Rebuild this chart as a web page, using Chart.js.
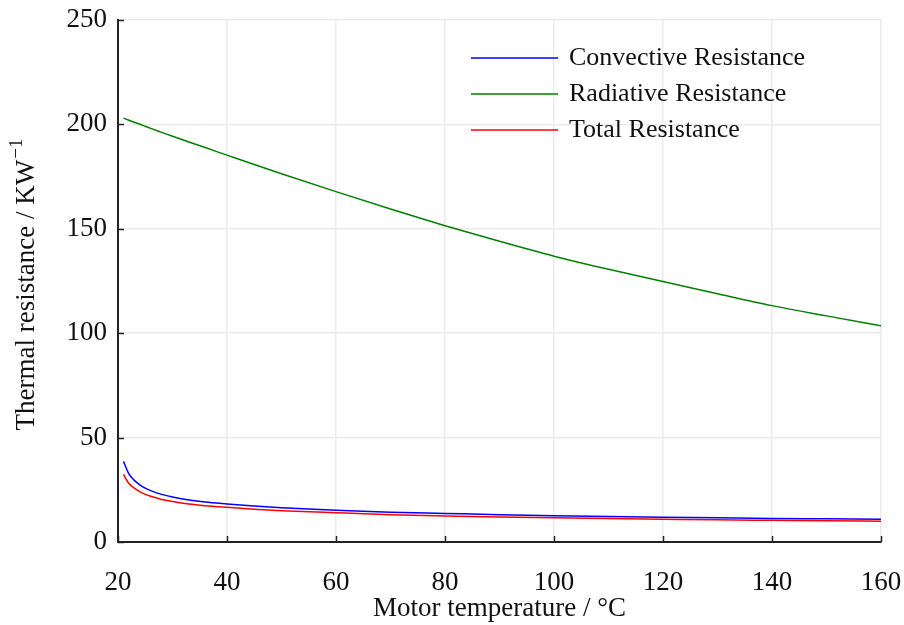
<!DOCTYPE html>
<html>
<head>
<meta charset="utf-8">
<title>Thermal resistance</title>
<script src="https://cdn.jsdelivr.net/npm/chart.js@4.4.1/dist/chart.umd.min.js"></script>
<style>
  html, body { margin: 0; padding: 0; background: #fff; }
  #wrap { width: 904px; height: 625px; }
</style>
</head>
<body>
<div id="wrap"><canvas id="lineChart" width="904" height="625"></canvas></div>
<script>
// motor temperature in °C
var temps = [21, 22, 23, 24, 25, 26, 28, 30, 33, 36, 40, 45, 50, 60, 70, 80, 90, 100, 110, 120, 130, 140, 150, 160];

// resistances in K/W
var convective = [38.6, 32.6, 29.5, 27.4, 25.8, 24.6, 22.8, 21.5, 20.1, 19.1, 18.2, 17.2, 16.4, 15.2, 14.3, 13.7, 13.1, 12.6, 12.2, 11.9, 11.6, 11.3, 11.1, 10.9];
var radiative = [203, 202, 201, 200.1, 199.1, 198.1, 196.2, 194.3, 191.6, 188.9, 185.3, 180.8, 176.4, 167.8, 159.5, 151.5, 144.0, 136.9, 130.6, 124.8, 118.9, 113.2, 108.3, 103.6];
var total = [32.4, 28.0, 25.8, 24.1, 22.8, 21.9, 20.4, 19.4, 18.2, 17.4, 16.6, 15.7, 15.0, 14.0, 13.1, 12.5, 12.0, 11.6, 11.2, 10.9, 10.6, 10.4, 10.2, 9.9];

var xTicks = [20, 40, 60, 80, 100, 120, 140, 160];
var yTicks = [0, 50, 100, 150, 200, 250];

var serif = '"Liberation Serif", "Times New Roman", serif';
var axisColor = '#222222';
var gridColor = '#ebebeb';

function toPoints(ys) {
  return temps.map(function (t, i) { return { x: t, y: ys[i] }; });
}

// tick marks pointing into the plot, legend inside the plot, y title with superscript
var decorations = {
  id: 'decorations',
  afterDraw: function (chart) {
    var ctx = chart.ctx;
    var area = chart.chartArea;
    var xs = chart.scales.x;
    var ys = chart.scales.y;

    ctx.save();
    ctx.strokeStyle = axisColor;
    ctx.lineWidth = 1.5;
    xTicks.forEach(function (v) {
      var px = Math.round(xs.getPixelForValue(v)) + 0.5;
      ctx.beginPath();
      ctx.moveTo(px, area.bottom);
      ctx.lineTo(px, area.bottom - 6);
      ctx.stroke();
    });
    yTicks.forEach(function (v) {
      var py = Math.round(ys.getPixelForValue(v)) + 0.5;
      ctx.beginPath();
      ctx.moveTo(area.left, py);
      ctx.lineTo(area.left + 6, py);
      ctx.stroke();
    });

    // legend
    ctx.font = '26px ' + serif;
    ctx.textBaseline = 'middle';
    ctx.textAlign = 'left';
    chart.data.datasets.forEach(function (ds, i) {
      var y = 58 + i * 36;
      ctx.strokeStyle = ds.borderColor;
      ctx.lineWidth = 1.5;
      ctx.beginPath();
      ctx.moveTo(471, y);
      ctx.lineTo(558, y);
      ctx.stroke();
      ctx.fillStyle = '#111';
      ctx.fillText(ds.label, 569, y);
    });

    // y axis title
    ctx.translate(27, 285);
    ctx.rotate(-Math.PI / 2);
    ctx.fillStyle = '#111';
    var main = 'Thermal resistance / KW';
    var sup = '\u22121';
    ctx.font = '27px ' + serif;
    var w1 = ctx.measureText(main).width;
    ctx.font = '19px ' + serif;
    var w2 = ctx.measureText(sup).width;
    var start = -(w1 + w2) / 2;
    ctx.font = '27px ' + serif;
    ctx.fillText(main, start, 0);
    ctx.font = '19px ' + serif;
    ctx.fillText(sup, start + w1 + 1, -10);
    ctx.restore();
  }
};

var ctx = document.getElementById('lineChart').getContext('2d');
var lineChart = new Chart(ctx, {
  type: 'line',
  data: {
    datasets: [
      { label: 'Convective Resistance', data: toPoints(convective), borderColor: '#0000ff' },
      { label: 'Radiative Resistance', data: toPoints(radiative), borderColor: '#008000' },
      { label: 'Total Resistance', data: toPoints(total), borderColor: '#ff0000' }
    ]
  },
  options: {
    responsive: false,
    animation: false,
    devicePixelRatio: 1,
    layout: { padding: { top: 20, right: 23, left: 0, bottom: 0 } },
    elements: {
      point: { radius: 0 },
      line: { borderWidth: 1.5, tension: 0.3, cubicInterpolationMode: 'monotone', fill: false }
    },
    plugins: {
      legend: { display: false },
      tooltip: { enabled: false }
    },
    scales: {
      x: {
        type: 'linear',
        min: 20,
        max: 160,
        afterBuildTicks: function (scale) {
          scale.ticks = xTicks.map(function (v) { return { value: v }; });
        },
        afterFit: function (scale) {
          scale.height = 83;
          scale.paddingLeft = 0;
          scale.paddingRight = 0;
        },
        grid: { color: gridColor, lineWidth: 1.5, drawTicks: false },
        border: { display: true, color: axisColor, width: 2 },
        ticks: {
          color: '#111',
          padding: 25,
          maxRotation: 0,
          font: { family: serif, size: 27 }
        },
        title: {
          display: true,
          text: 'Motor temperature / \u00b0C',
          color: '#111',
          padding: { top: 0, bottom: 0 },
          font: { family: serif, size: 27 }
        }
      },
      y: {
        type: 'linear',
        min: 0,
        max: 250,
        afterBuildTicks: function (scale) {
          scale.ticks = yTicks.map(function (v) { return { value: v }; });
        },
        afterFit: function (scale) {
          scale.width = 118;
          scale.paddingTop = 0;
          scale.paddingBottom = 0;
        },
        grid: { color: gridColor, lineWidth: 1.5, drawTicks: false },
        border: { display: true, color: axisColor, width: 2 },
        ticks: {
          color: '#111',
          padding: 11,
          font: { family: serif, size: 27 }
        }
      }
    }
  },
  plugins: [decorations]
});
</script>
</body>
</html>
